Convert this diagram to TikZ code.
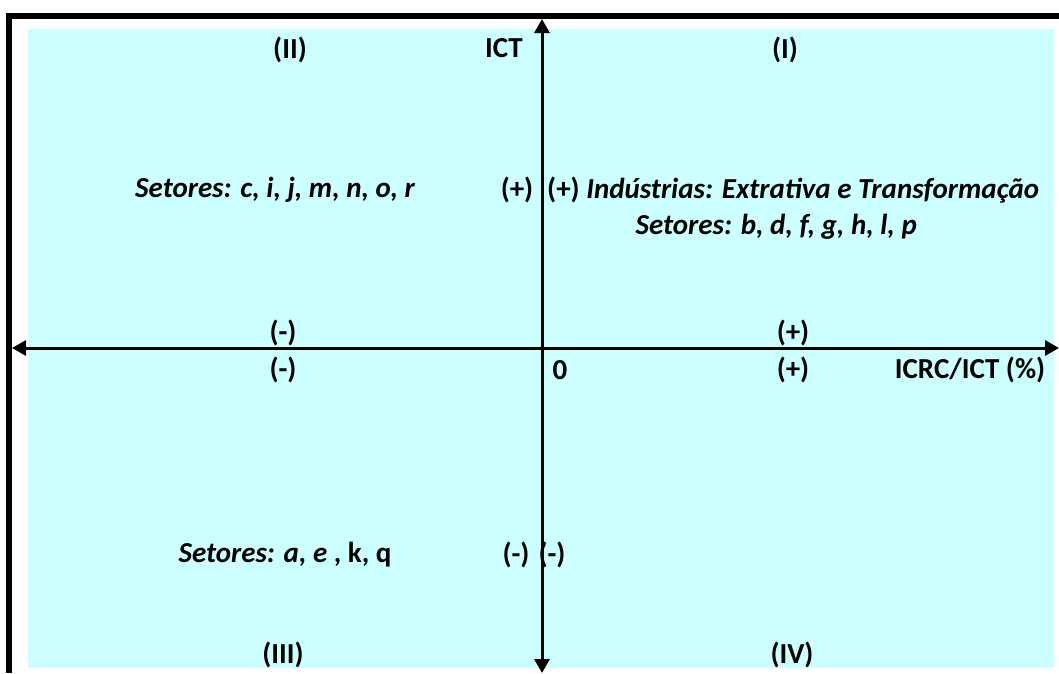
\documentclass[tikz,border=0pt]{standalone}
\usepackage{fontspec}
\setmainfont{Carlito}
\usepackage{tikz}
\usetikzlibrary{arrows.meta,positioning}
\definecolor{qcyan}{HTML}{CCFFFF}
\tikzset{
  lab/.style={font=\fontsize{29}{33}\selectfont\bfseries,inner sep=0pt,text=black},
  itl/.style={lab,font=\fontsize{29}{33}\selectfont\bfseries\itshape},
  axis/.style={{Triangle[length=14pt,width=15pt]}-{Triangle[length=14pt,width=15pt]},line width=3pt},
  frame/.style={line width=6pt,draw=black},
}
\begin{document}
\begin{tikzpicture}[x=1pt,y=-1pt]
  \useasboundingbox (0,0) rectangle (1059,673);
  % background and frame
  \fill[qcyan] (28,29) rectangle (1054,668);
  \draw[frame] (9,673) -- (9,16) -- (1059,16);
  % axes
  \coordinate (xl) at (12,348);
  \coordinate (xr) at (1059,348);
  \coordinate (yt) at (542,19);
  \coordinate (yb) at (542,673);
  \draw[axis] (xl) -- (xr);
  \draw[axis] (yt) -- (yb);
  % quadrant labels
  \node[lab] (q2) at (290,50) {(II)};
  \node[lab] (ict) at (504,48) {ICT};
  \node[lab] (q1) at (785,50) {(I)};
  \node[lab] (q3) at (283,655) {(III)};
  \node[lab] (q4) at (792,655) {(IV)};
  % quadrant II
  \node[itl] (s2) at (275,190) {Setores: c, i, j, m, n, o, r};
  \node[lab] (p2) at (517,190) {(+)};
  % quadrant I
  \node[lab,anchor=west] (p1) at (547,190) {(+) \textit{Indústrias: Extrativa e Transformação}};
  \node[itl,anchor=east] (s1) at (917,227) {Setores: b, d, f, g, h, l, p};
  % along the horizontal axis
  \node[lab] (mu) at (283,333) {(-)};
  \node[lab] (pu) at (793,333) {(+)};
  \node[lab] (md) at (283,370) {(-)};
  \node[lab] (zero) at (560,370) {0};
  \node[lab] (pd) at (793,370) {(+)};
  \node[lab] (xlab) at (970,370) {ICRC/ICT (\%)};
  % quadrant III
  \node[lab] (s3) at (285,555) {\textit{Setores: a, e} , k, q};
  \node[lab] (m3) at (516,555) {(-)};
  \node[lab] (m4) at (552,555) {(-)};
\end{tikzpicture}
\end{document}
